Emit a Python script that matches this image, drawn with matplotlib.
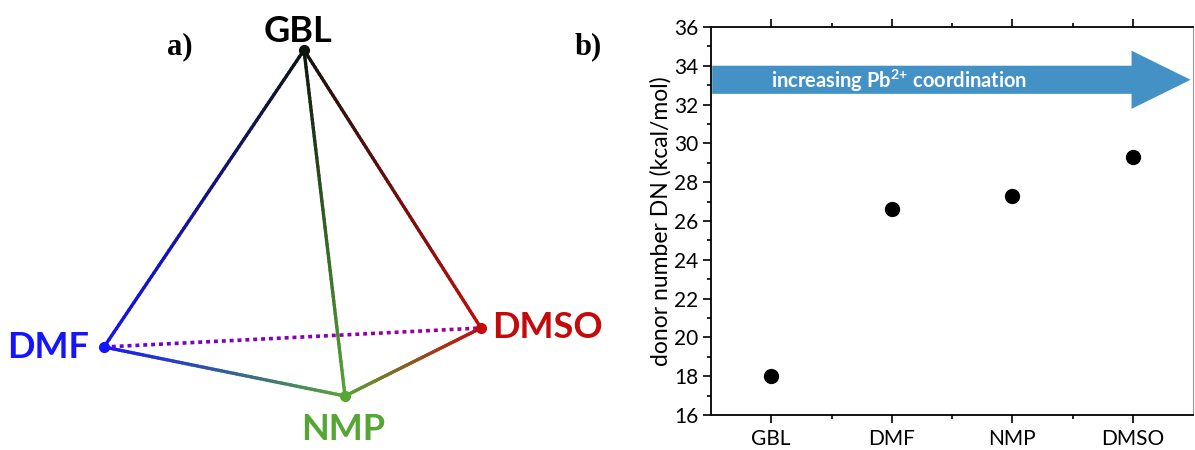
import numpy as np
import matplotlib.pyplot as plt
from matplotlib.collections import LineCollection
from matplotlib.colors import to_rgb
from matplotlib.patches import FancyArrow

# solvent donor numbers (kcal/mol)
solvents = ['GBL', 'DMF', 'NMP', 'DMSO']
donor_number = [18.0, 26.6, 27.3, 29.3]

# tetrahedron sketch: vertex positions (sketch units) and colours
vert_x = {'GBL': 304, 'DMF': 104, 'DMSO': 481, 'NMP': 345}
vert_y = {'GBL': 50, 'DMF': 347, 'DMSO': 328, 'NMP': 396}
vert_color = {'GBL': '#0e140e', 'DMF': '#1414ff', 'DMSO': '#c40a0a', 'NMP': '#55a635'}
edges = [('GBL', 'DMF'), ('GBL', 'DMSO'), ('GBL', 'NMP'), ('DMF', 'NMP'), ('NMP', 'DMSO')]
hidden_edge = ('DMF', 'DMSO')
hidden_colors = ('#6a00e0', '#a5008c')

plt.rcParams['font.family'] = ['Lato', 'DejaVu Sans']
plt.rcParams['mathtext.fontset'] = 'custom'
plt.rcParams['mathtext.rm'] = 'Lato'
plt.rcParams['mathtext.bf'] = 'Lato:bold'

fig = plt.figure(figsize=(11.95, 4.5), dpi=100)

# ---- a) tetrahedron ----
ax1 = fig.add_axes([0, 0, 620 / 1195, 1])
ax1.set_xlim(0, 620)
ax1.set_ylim(450, 0)
ax1.axis('off')


def gradient_line(ax, p0, p1, c0, c1, n=80, lw=2.4):
    t = np.linspace(0, 1, n + 1)
    xs = p0[0] + (p1[0] - p0[0]) * t
    ys = p0[1] + (p1[1] - p0[1]) * t
    segs = [[(xs[i], ys[i]), (xs[i + 1], ys[i + 1])] for i in range(n)]
    c0, c1 = np.array(to_rgb(c0)), np.array(to_rgb(c1))
    tm = (t[:-1] + t[1:]) / 2
    cols = [tuple(c0 + (c1 - c0) * v) for v in tm]
    ax.add_collection(LineCollection(segs, colors=cols, linewidths=lw, capstyle='round'))


for a, b in edges:
    gradient_line(ax1, (vert_x[a], vert_y[a]), (vert_x[b], vert_y[b]),
                  vert_color[a], vert_color[b])

# dotted back edge
a, b = hidden_edge
p0 = np.array([vert_x[a], vert_y[a]], float)
p1 = np.array([vert_x[b], vert_y[b]], float)
ndots = 48
c0, c1 = np.array(to_rgb(hidden_colors[0])), np.array(to_rgb(hidden_colors[1]))
segs, cols = [], []
for i in range(ndots):
    t0 = i / ndots
    t1 = t0 + 0.5 / ndots
    segs.append([p0 + (p1 - p0) * t0, p0 + (p1 - p0) * t1])
    cols.append(tuple(c0 + (c1 - c0) * (t0 + t1) / 2))
ax1.add_collection(LineCollection(segs, colors=cols, linewidths=2.6, capstyle='butt'))

for name in vert_x:
    ax1.plot(vert_x[name], vert_y[name], 'o', color=vert_color[name], ms=7, zorder=5)

lab = dict(fontsize=26, fontweight='bold', va='center')
ax1.text(vert_x['GBL'] - 6, vert_y['GBL'] - 18, 'GBL', color='black', ha='center', **lab)
ax1.text(vert_x['DMF'] - 15, vert_y['DMF'] + 1, 'DMF', color='#1414ff', ha='right', **lab)
ax1.text(vert_x['DMSO'] + 11, vert_y['DMSO'] - 1, 'DMSO', color='#c40a0a', ha='left', **lab)
ax1.text(vert_x['NMP'] - 2, vert_y['NMP'] + 33, 'NMP', color='#55a635', ha='center', **lab)

ax1.text(180, 47, 'a)', fontsize=22, fontweight='bold', family='Liberation Serif',
         ha='center', va='center')
ax1.text(588, 47, 'b)', fontsize=22, fontweight='bold', family='Liberation Serif',
         ha='center', va='center')

# ---- b) donor numbers ----
ax2 = fig.add_axes([711 / 1195, 35 / 450, 482 / 1195, 388 / 450])
xpos = np.arange(1, len(solvents) + 1)
ax2.plot(xpos, donor_number, 'o', color='black', ms=10)
ax2.set_xlim(0.5, 4.5)
ax2.set_ylim(16, 36)
ax2.set_xticks(xpos)
ax2.set_xticklabels(solvents)
ax2.set_xticks(np.arange(1.5, 4.5, 1), minor=True)
ax2.set_yticks(np.arange(16, 37, 2))
ax2.set_yticks(np.arange(17, 36, 2), minor=True)
ax2.tick_params(which='both', direction='out', top=True, right=False, labelsize=15, width=1.2)
ax2.tick_params(which='major', length=6)
ax2.tick_params(which='minor', length=3)
ax2.tick_params(axis='x', pad=4)
ax2.tick_params(axis='y', pad=3)
for side in ['left', 'bottom', 'top']:
    ax2.spines[side].set_linewidth(1.3)
ax2.spines['right'].set_linewidth(0.8)
ax2.spines['right'].set_color('#999999')
ax2.set_ylabel('donor number DN (kcal/mol)', fontsize=16.5, labelpad=2)

arrow = FancyArrow(0.51, 33.28, 3.48, 0, width=1.45, head_width=3.0, head_length=0.49,
                   length_includes_head=False, color='#4491c6', lw=0, zorder=3)
ax2.add_patch(arrow)
ax2.text(1.0, 33.2, r'increasing Pb$^{\mathbf{2{+}}}$ coordination', color='white',
         fontsize=14.5, fontweight='bold', ha='left', va='center', zorder=4)

fig.savefig('out.png', dpi=100)
